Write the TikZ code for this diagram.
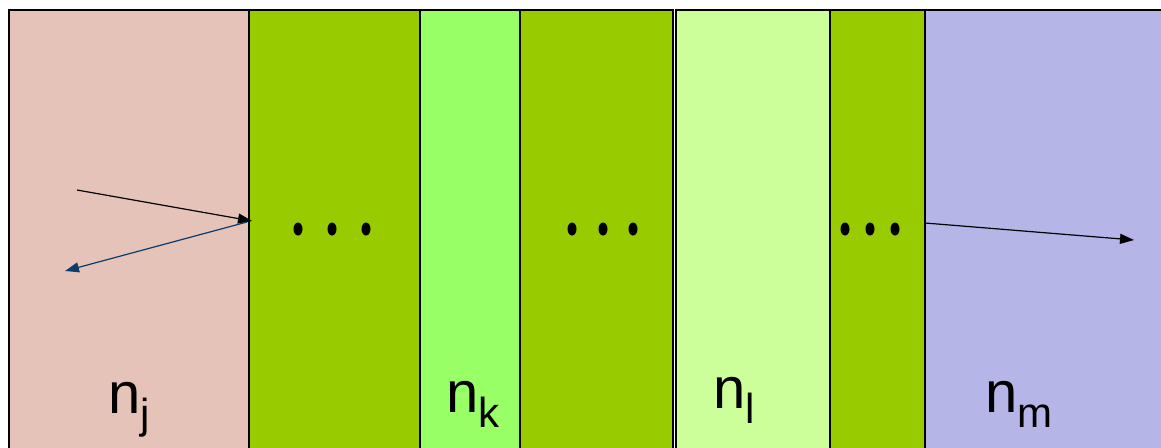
\documentclass[tikz,border=0pt]{standalone}
\usepackage{fontspec}
\setmainfont{Liberation Sans}
\usetikzlibrary{arrows.meta}

\definecolor{pinklayer}{HTML}{E6C3B8}
\definecolor{greenlayer}{HTML}{99CC00}
\definecolor{brightlayer}{HTML}{99FF66}
\definecolor{palelayer}{HTML}{CCFF99}
\definecolor{lavlayer}{HTML}{B5B5E8}
\definecolor{rayblue}{HTML}{0B3C6E}

\newcommand\idxlbl[2]{#1\raisebox{-15pt}{\fontsize{42}{44}\selectfont #2}}

\begin{document}
\begin{tikzpicture}[x=1pt, y=-1pt,
    layer/.style={draw=black, line width=1.3pt},
    lbl/.style={anchor=base west, inner sep=0pt, font=\fontsize{58}{60}\selectfont},
    ray/.style={-{Triangle[length=14pt,width=10pt]}, line width=1.2pt}]
  \useasboundingbox (0,0) rectangle (1161,447);
  \clip (0,0) rectangle (1161,447);
  % layers
  \filldraw[layer, fill=pinklayer]   (9,10)   rectangle (249,470);
  \filldraw[layer, fill=greenlayer]  (249,10) rectangle (420,470);
  \filldraw[layer, fill=brightlayer] (420,10) rectangle (520,470);
  \filldraw[layer, fill=greenlayer]  (520,10) rectangle (673,470);
  \filldraw[layer, fill=palelayer]   (676,10) rectangle (830,470);
  \filldraw[layer, fill=greenlayer]  (830,10) rectangle (925,470);
  \filldraw[layer, fill=lavlayer]    (925,10) rectangle (1175,470);
  % dots
  \foreach \x in {298,332,366, 572,603,633, 845,870,895}
    \fill (\x,229) ellipse (4.5 and 6.5);
  % labels
  \node[lbl] (nj) at (108,413) {\idxlbl{n}{j}};
  \node[lbl] (nk) at (446,412) {\idxlbl{n}{k}};
  \node[lbl] (nl) at (713,408) {\idxlbl{n}{l}};
  \node[lbl] (nm) at (985,412) {\idxlbl{n}{m}};
  % rays
  \coordinate (inc) at (77,190);
  \coordinate (hit) at (252,221);
  \coordinate (refl) at (65,271);
  \coordinate (exit) at (925,223);
  \coordinate (outr) at (1134,240);
  \draw[ray] (inc) -- (hit);
  \draw[ray, rayblue] (hit) ++(-5,1) coordinate (src) (src) -- (refl);
  \draw[ray] (exit) -- (outr);
\end{tikzpicture}
\end{document}
